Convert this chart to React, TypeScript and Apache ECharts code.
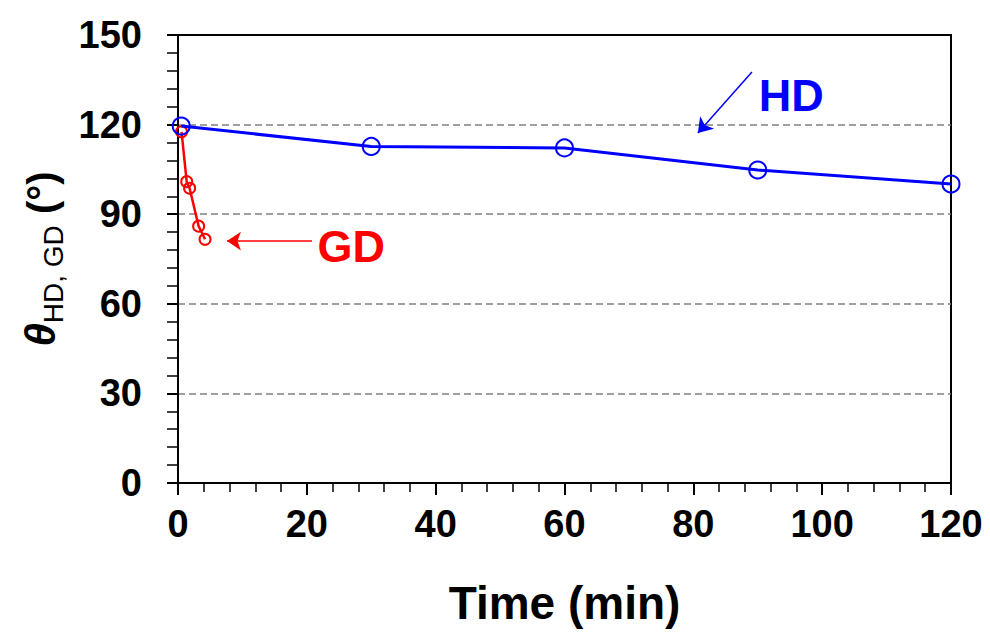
import React, { useEffect, useRef } from "react";
import * as echarts from "echarts";

const hdTime = [0.5, 30, 60, 90, 120];
const hdAngle = [119.5, 112.7, 112.2, 104.8, 100.1];
const gdTime = [0.55, 1.35, 1.8, 3.2, 4.2];
const gdAngle = [117.6, 100.9, 98.7, 86.0, 81.6];

const xTicks = { min: 0, max: 120, interval: 20 };
const yTicks = { min: 0, max: 150, interval: 30 };

const hdArrow = [[89.1, 137.6], [80.7, 117.2]];
const gdArrow = [[20.8, 81.0], [7.6, 81.0]];
const hdLabelAt = [95.2, 129.9];
const gdLabelAt = [26.9, 79.3];

const FONT = "'Liberation Sans', Arial, sans-serif";

export default function App() {
  const ref = useRef<HTMLDivElement>(null);
  useEffect(() => {
    if (!ref.current) return;
    const chart = echarts.init(ref.current, undefined, { renderer: "svg" });
    const toPairs = (xs: number[], ys: number[]) => xs.map((x, i) => [x, ys[i]]);
    chart.setOption({
      animation: false,
      backgroundColor: "#ffffff",
      grid: {
        left: 178,
        top: 35,
        right: 39,
        bottom: 156,
        show: true,
        borderColor: "#000",
        borderWidth: 2,
        backgroundColor: "transparent",
      },
      xAxis: {
        type: "value",
        min: xTicks.min,
        max: xTicks.max,
        interval: xTicks.interval,
        name: "Time (min)",
        nameLocation: "middle",
        nameGap: 97,
        nameTextStyle: { fontFamily: FONT, fontWeight: "bold", fontSize: 46, color: "#000" },
        axisLine: { lineStyle: { color: "#000", width: 2 } },
        axisTick: { show: true, length: 12, lineStyle: { color: "#000", width: 2 } },
        minorTick: { show: true, splitNumber: 5, length: 9, lineStyle: { color: "#000", width: 1.5 } },
        axisLabel: { fontFamily: FONT, fontWeight: "bold", fontSize: 38, color: "#000", margin: 22 },
        splitLine: { show: false },
      },
      yAxis: {
        type: "value",
        min: yTicks.min,
        max: yTicks.max,
        interval: yTicks.interval,
        name: "{t|θ}{s|HD, GD}{n| (°)}",
        nameLocation: "middle",
        nameRotate: 90,
        nameGap: 112,
        nameTextStyle: {
          color: "#000",
          rich: {
            t: { fontFamily: FONT, fontWeight: "bold", fontStyle: "italic", fontSize: 42, color: "#000", verticalAlign: "bottom", lineHeight: 44 },
            s: { fontFamily: FONT, fontSize: 28, color: "#000", verticalAlign: "bottom", lineHeight: 30, padding: [0, 0, -6, 0] },
            n: { fontFamily: FONT, fontWeight: "bold", fontSize: 40, color: "#000", verticalAlign: "bottom", lineHeight: 44 },
          },
        },
        axisLine: { show: true, lineStyle: { color: "#000", width: 2 } },
        axisTick: { show: true, length: 11, lineStyle: { color: "#000", width: 2 } },
        minorTick: { show: true, splitNumber: 5, length: 11, lineStyle: { color: "#000", width: 1.5 } },
        axisLabel: { fontFamily: FONT, fontWeight: "bold", fontSize: 38, color: "#000", margin: 36 },
        splitLine: {
          show: true,
          showMinLine: false,
          showMaxLine: false,
          lineStyle: { color: "#808080", width: 1.5, type: [7, 4] },
        },
      },
      series: [
        {
          name: "HD",
          type: "line",
          data: toPairs(hdTime, hdAngle),
          symbol: "circle",
          symbolSize: 17,
          showAllSymbol: true,
          lineStyle: { color: "#0000ff", width: 3 },
          itemStyle: { color: "rgba(255,255,255,0)", borderColor: "#0000ff", borderWidth: 2 },
          z: 3,
          markLine: {
            silent: true,
            symbol: ["none", "arrow"],
            symbolSize: 14,
            label: { show: false },
            lineStyle: { color: "#0000ff", width: 1.5, type: "solid" },
            data: [[{ coord: hdArrow[0] }, { coord: hdArrow[1] }]],
          },
        },
        {
          name: "GD",
          type: "line",
          data: toPairs(gdTime, gdAngle),
          symbol: "circle",
          symbolSize: 11,
          showAllSymbol: true,
          lineStyle: { color: "#ff0000", width: 2.5 },
          itemStyle: { color: "rgba(255,255,255,0)", borderColor: "#ff0000", borderWidth: 2 },
          z: 2,
          markLine: {
            silent: true,
            symbol: ["none", "arrow"],
            symbolSize: 14,
            label: { show: false },
            lineStyle: { color: "#ff0000", width: 1.5, type: "solid" },
            data: [[{ coord: gdArrow[0] }, { coord: gdArrow[1] }]],
          },
        },
      ],
    });
    const hdP = chart.convertToPixel({ gridIndex: 0 }, hdLabelAt) as number[];
    const gdP = chart.convertToPixel({ gridIndex: 0 }, gdLabelAt) as number[];
    chart.setOption({
      graphic: [
        {
          type: "text",
          x: hdP[0],
          y: hdP[1],
          style: { text: "HD", fontFamily: FONT, fontWeight: "bold", fontSize: 45, fill: "#0000ff", align: "center", verticalAlign: "middle" },
        },
        {
          type: "text",
          x: gdP[0],
          y: gdP[1],
          style: { text: "GD", fontFamily: FONT, fontWeight: "bold", fontSize: 45, fill: "#ff0000", align: "center", verticalAlign: "middle" },
        },
      ],
    });
    return () => chart.dispose();
  }, []);
  return <div ref={ref} style={{ width: 990, height: 639, position: "absolute", left: 0, top: 0 }} />;
}
